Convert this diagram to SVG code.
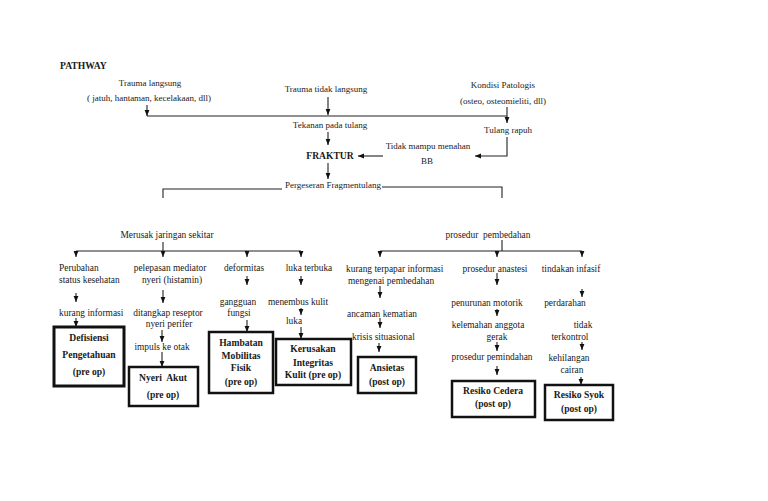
<svg xmlns="http://www.w3.org/2000/svg" width="768" height="501" viewBox="0 0 768 501">
<style>
text{font-family:"Liberation Serif","Times New Roman",serif;font-size:9.4px;fill:#1a1a1a}
.s{font-size:9px}
.b{font-weight:bold;font-size:9.6px}
.m{text-anchor:middle}
.box{fill:#fff;stroke:#111;stroke-width:2.5}
.ln{fill:none;stroke:#222;stroke-width:1.1}
.ar{fill:none;stroke:#222;stroke-width:1.1;marker-end:url(#ah)}
</style>
<defs>
<marker id="ah" markerUnits="userSpaceOnUse" markerWidth="6" markerHeight="6" viewBox="0 0 6 6" refX="6" refY="3" orient="auto">
<path d="M0,0.6 L6,3 L0,5.4 z" fill="#111"/>
</marker>
</defs>
<rect width="768" height="501" fill="#fff"/>
<text x="60" y="69" class="b">PATHWAY</text>

<g id="connectors">
<path class="ar" d="M147,105 V116"/>
<path class="ln" d="M147,116 H507"/>
<path class="ar" d="M328,97 V115"/>
<path class="ar" d="M507,107 V123"/>
<path class="ar" d="M328,132 V145"/>
<path class="ar" d="M328,163 V179"/>
<path class="ar" d="M507,137 V156 H475"/>
<path class="ar" d="M383,156 H358"/>
<path class="ln" d="M282,189 H163 V198"/>
<path class="ln" d="M382,187 H502 V198"/>
<path class="ar" d="M163,242 V257"/>
<path class="ln" d="M76,251 H301"/>
<path class="ar" d="M76,251 V257"/>
<path class="ar" d="M247,251 V257"/>
<path class="ar" d="M301,251 V257"/>
<path class="ln" d="M502,240 V251"/>
<path class="ln" d="M380,251 H582"/>
<path class="ar" d="M380,251 V257"/>
<path class="ar" d="M497,251 V257"/>
<path class="ar" d="M582,251 V257"/>
<path class="ar" d="M76,293 V302"/>
<path class="ar" d="M76,318 V327"/>
<path class="ar" d="M163,290 V303"/>
<path class="ar" d="M162,330 V342"/>
<path class="ar" d="M162,352 V367"/>
<path class="ar" d="M247,276 V285"/>
<path class="ar" d="M247,320 V332"/>
<path class="ar" d="M301,276 V285"/>
<path class="ar" d="M301,308 V315"/>
<path class="ar" d="M301,327 V339"/>
<path class="ar" d="M380,286 V298"/>
<path class="ar" d="M380,318 V328"/>
<path class="ar" d="M379,343 V352"/>
<path class="ar" d="M497,273 V285"/>
<path class="ar" d="M497,309 V316"/>
<path class="ar" d="M497,342 V351"/>
<path class="ar" d="M497,366 V375"/>
<path class="ar" d="M582,289 V297"/>
<path class="ar" d="M582,342 V350"/>
<path class="ar" d="M581,377 V385"/>
</g>

<g id="trauma-langsung"><text x="150" y="86" class="s m">Trauma langsung</text><text x="149" y="101" class="s m">( jatuh, hantaman, kecelakaan, dll)</text></g>
<g id="trauma-tidak-langsung"><text x="326" y="92" class="s m">Trauma tidak langsung</text></g>
<g id="kondisi-patologis"><text x="503" y="88" class="s m">Kondisi Patologis</text><text x="503" y="104" class="s m">(osteo, osteomieliti, dll)</text></g>
<g id="tekanan"><text x="330" y="128" class="s m">Tekanan pada tulang</text></g>
<g id="fraktur"><text x="330" y="159" class="b m">FRAKTUR</text></g>
<g id="tulang-rapuh"><text x="508" y="133" class="s m">Tulang rapuh</text></g>
<g id="tidak-mampu"><text x="428" y="149" class="s m">Tidak mampu menahan</text><text x="427" y="164" class="s m">BB</text></g>
<g id="pergeseran"><text x="333" y="188" class="s m">Pergeseran Fragmentulang</text></g>

<g id="merusak"><text x="167" y="238" class="m">Merusak jaringan sekitar</text></g>
<g id="prosedur-pembedahan"><text x="488" y="238" class="m" xml:space="preserve">prosedur  pembedahan</text></g>

<g id="perubahan"><text x="59" y="271">Perubahan</text><text x="59" y="283">status kesehatan</text></g>
<g id="pelepasan"><text x="170" y="271" class="m">pelepasan mediator</text><text x="172" y="283" class="m">nyeri (histamin)</text></g>
<g id="deformitas"><text x="244" y="271" class="m">deformitas</text></g>
<g id="luka-terbuka"><text x="309" y="271" class="m">luka terbuka</text></g>
<g id="kurang-informasi"><text x="59" y="316">kurang informasi</text></g>
<g id="ditangkap"><text x="168" y="316" class="m">ditangkap reseptor</text><text x="169" y="327" class="m">nyeri perifer</text></g>
<g id="impuls"><text x="162" y="350" class="m">impuls ke otak</text></g>
<g id="gangguan"><text x="238" y="305" class="m">gangguan</text><text x="239" y="316" class="m">fungsi</text></g>
<g id="menembus"><text x="298" y="305" class="m">menembus kulit</text></g>
<g id="luka"><text x="294" y="324" class="m">luka</text></g>

<g id="kurang-terpapar"><text x="346" y="272">kurang terpapar informasi</text><text x="348" y="284">mengenai pembedahan</text></g>
<g id="ancaman"><text x="347" y="317">ancaman kematian</text></g>
<g id="krisis"><text x="352" y="340">krisis situasional</text></g>
<g id="anastesi"><text x="495" y="272" class="m">prosedur anastesi</text></g>
<g id="penurunan"><text x="487" y="306" class="m">penurunan motorik</text></g>
<g id="kelemahan"><text x="488" y="328" class="m">kelemahan anggota</text><text x="497" y="340" class="m">gerak</text></g>
<g id="pemindahan"><text x="492" y="360" class="m">prosedur pemindahan</text></g>
<g id="tindakan"><text x="571" y="272" class="m">tindakan infasif</text></g>
<g id="perdarahan"><text x="565" y="306" class="m">perdarahan</text></g>
<g id="tidak-terkontrol"><text x="583" y="328" class="m">tidak</text><text x="570" y="340" class="m">terkontrol</text></g>
<g id="kehilangan"><text x="569" y="361" class="m">kehilangan</text><text x="572" y="373" class="m">cairan</text></g>

<g id="defisiensi"><rect class="box" x="54" y="327" width="70" height="59" style="stroke-width:3"/><text x="89" y="341" class="b m">Defisiensi</text><text x="89" y="358" class="b m">Pengetahuan</text><text x="89" y="375" class="b m">(pre op)</text></g>
<g id="nyeri-akut"><rect class="box" x="129" y="367" width="69" height="39"/><text x="163" y="381" class="b m" xml:space="preserve">Nyeri  Akut</text><text x="163" y="398" class="b m">(pre op)</text></g>
<g id="hambatan"><rect class="box" x="209" y="332" width="64" height="61"/><text x="241" y="346" class="b m">Hambatan</text><text x="241" y="359" class="b m">Mobilitas</text><text x="241" y="371" class="b m">Fisik</text><text x="241" y="385" class="b m">(pre op)</text></g>
<g id="kerusakan"><rect class="box" x="276" y="339" width="75" height="46"/><text x="313" y="352" class="b m">Kerusakan</text><text x="313" y="366" class="b m">Integritas</text><text x="313" y="378" class="b m">Kulit (pre op)</text></g>
<g id="ansietas"><rect class="box" x="358" y="357" width="58" height="36"/><text x="387" y="371" class="b m">Ansietas</text><text x="387" y="385" class="b m">(post op)</text></g>
<g id="resiko-cedera"><rect class="box" x="452" y="381" width="83" height="36"/><text x="493" y="394" class="b m">Resiko Cedera</text><text x="493" y="407" class="b m">(post op)</text></g>
<g id="resiko-syok"><rect class="box" x="545" y="385" width="68" height="35"/><text x="579" y="398" class="b m">Resiko Syok</text><text x="579" y="412" class="b m">(post op)</text></g>
</svg>
